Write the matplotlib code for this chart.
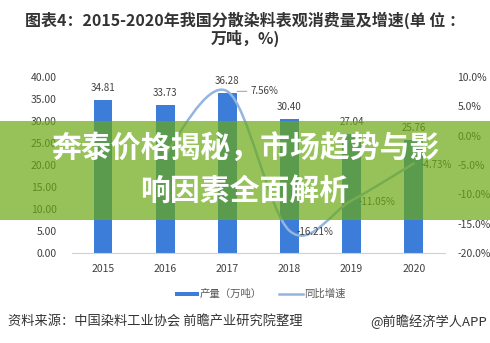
import matplotlib.pyplot as plt
from matplotlib.path import Path
from matplotlib.patches import PathPatch, Rectangle
from matplotlib.lines import Line2D
import numpy as np

plt.rcParams['font.family'] = ['Noto Sans CJK SC', 'DejaVu Sans']

# data
years = ['2015', '2016', '2017', '2018', '2019', '2020']
output = [34.81, 33.73, 36.28, 30.40, 27.04, 25.76]          # 万吨
growth_years = ['2016', '2017', '2018', '2019', '2020']
growth = [-3.10, 7.56, -16.21, -11.05, -4.73]                # %

bar_color = '#3b7dd8'
line_color = '#93b5e0'
txt = '#404040'

fig = plt.figure(figsize=(4.9, 3.43), dpi=100)
ax = fig.add_axes([0.1469, 0.2624, 0.761, 0.5131])
ax2 = ax.twinx()

x = np.arange(len(years))
ax.bar(x, output, width=0.3, color=bar_color, zorder=2)
for xi, v in zip(x, output):
    ax.annotate(f'{v:.2f}', (xi, v), xytext=(0, 5), textcoords='offset points',
                ha='center', va='bottom', fontsize=7, color=txt)

ax.set_xlim(-0.5, len(years) - 0.5)
ax.set_ylim(0, 40)
ax.set_yticks(np.arange(0, 41, 5))
ax.set_yticklabels([f'{t:.2f}' for t in np.arange(0, 41, 5)])
ax.set_xticks(x)
ax.set_xticklabels(years)
ax2.set_ylim(-20, 10)
ax2.set_yticks(np.arange(-20, 11, 5))
ax2.set_yticklabels([f'{t:.1f}%' for t in np.arange(-20, 11, 5)])

for a in (ax, ax2):
    for s in a.spines.values():
        s.set_visible(False)
    a.tick_params(length=0, labelsize=7.5, labelcolor=txt)
ax.tick_params(axis='y', pad=11)
ax2.tick_params(axis='y', pad=9)
ax.tick_params(axis='x', pad=8)
ax.spines['bottom'].set_visible(True)
ax.spines['bottom'].set_color('#d0d0d0')

# smoothed growth line (cubic bezier through the points)
gx = np.array([years.index(y) for y in growth_years], dtype=float)
gy = np.array(growth)
pts = np.column_stack([gx, gy])
ext = np.vstack([pts[0], pts, pts[-1]])
verts = [tuple(pts[0])]
codes = [Path.MOVETO]
for i in range(len(pts) - 1):
    c1 = pts[i] + (ext[i + 2] - ext[i]) / 6
    c2 = pts[i + 1] - (ext[i + 3] - ext[i + 1]) / 6
    verts += [tuple(c1), tuple(c2), tuple(pts[i + 1])]
    codes += [Path.CURVE4] * 3
ax2.add_patch(PathPatch(Path(verts, codes), fill=False, edgecolor=line_color,
                        lw=1.8, capstyle='round', zorder=3))

# value labels (2016 one sits under the banner text, left off)
for xi, v in zip(gx[1:], gy[1:]):
    if v == 7.56:
        ax2.annotate(f'{v:.2f}%', (xi, v), xytext=(17, 0), textcoords='offset points',
                     ha='left', va='center', fontsize=7, color=txt,
                     arrowprops=dict(arrowstyle='-', color='#a0a0a0', lw=0.7,
                                     shrinkA=1, shrinkB=7))
    else:
        ax2.annotate(f'{v:.2f}%', (xi, v), xytext=(5, -1), textcoords='offset points',
                     ha='left', va='center', fontsize=7, color=txt)

# title
fig.text(0.5, 0.941, '图表4：2015-2020年我国分散染料表观消费量及增速(单 位 ：',
         ha='center', va='center', fontsize=11.5, fontweight='bold', color='#333333')
fig.text(0.5, 0.889, '万吨，%)', ha='center', va='center', fontsize=11.5,
         fontweight='bold', color='#333333')

# legend
fig.patches.append(Rectangle((175 / 490, 1 - 296 / 343), 24 / 490, 4 / 343,
                             transform=fig.transFigure, facecolor=bar_color, lw=0))
fig.text(200 / 490, 1 - 294 / 343, '产量（万吨）', ha='left', va='center',
         fontsize=7.5, color='#595959')
fig.lines.append(Line2D([279 / 490, 303 / 490], [1 - 294 / 343, 1 - 294 / 343],
                        transform=fig.transFigure, color=line_color, lw=1.8))
fig.text(304 / 490, 1 - 294 / 343, '同比增速', ha='left', va='center',
         fontsize=7.5, color='#595959')

# source line
fig.text(8 / 490, 1 - 322 / 343, '资料来源：中国染料工业协会 前瞻产业研究院整理',
         ha='left', va='center', fontsize=9.5, color='#333333')
fig.text(487 / 490, 1 - 322 / 343, '@前瞻经济学人APP',
         ha='right', va='center', fontsize=9.5, color='#333333')

# green banner across the middle
fig.patches.append(Rectangle((0, 1 - 220 / 343), 1, 99 / 343, transform=fig.transFigure,
                             facecolor='#6aa913', lw=0, alpha=0.7, zorder=5))
fig.text(0.5, 1 - 149 / 343, '奔泰价格揭秘，市场趋势与影', ha='center', va='center',
         fontsize=21.5, fontweight='heavy', color='white', zorder=6)
fig.text(0.5, 1 - 191 / 343, '响因素全面解析', ha='center', va='center',
         fontsize=21.5, fontweight='heavy', color='white', zorder=6)

fig.savefig('out.png', dpi=100)
